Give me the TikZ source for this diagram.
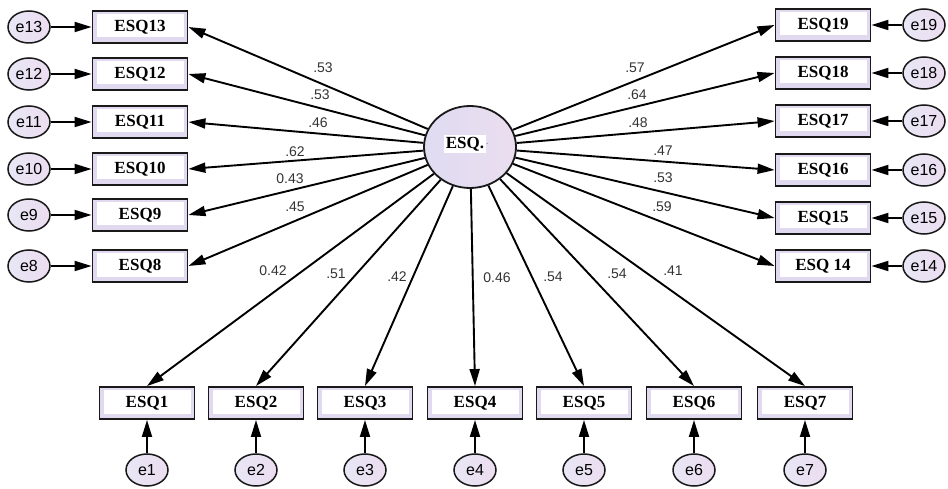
\documentclass[tikz,border=0pt]{standalone}
\usepackage{fontspec}
\setmainfont{Liberation Serif}
\newfontfamily\lblfont{Liberation Sans}
\usetikzlibrary{arrows.meta,shapes.geometric}
\definecolor{lavr}{HTML}{EBDDF0}
\definecolor{lavl}{HTML}{DFDCF1}
\definecolor{boxlav}{HTML}{E1D9EF}
\definecolor{lblgray}{HTML}{333333}
\tikzset{
  obs/.style={draw=black!90, line width=1.9pt, fill=boxlav, minimum width=95pt,
    minimum height=32pt, inner sep=0pt, font=\fontsize{17}{17}\selectfont\bfseries,
    path picture={\fill[white]
      ([shift={(4pt,5.5pt)}]path picture bounding box.south west) rectangle
      ([shift={(-4pt,-3pt)}]path picture bounding box.north east);}},
  err/.style={ellipse, draw=black!90, line width=1.5pt, left color=lavl!70!white,
    right color=lavr, minimum width=42pt, minimum height=32pt, inner sep=0pt,
    font=\lblfont\fontsize{16}{16}\selectfont},
  lat/.style={ellipse, draw=black!90, line width=1.8pt, left color=lavl,
    right color=lavr, minimum width=92pt, minimum height=82pt, inner sep=0pt},
  loadarrow/.style={line width=1.9pt, -{Triangle[length=17pt,width=10pt]}},
  lbl/.style={font=\lblfont\fontsize{14}{14}\selectfont, text=lblgray, inner sep=1pt}
}
\begin{document}
\begin{tikzpicture}[x=1pt,y=-1pt]
\useasboundingbox (0,0) rectangle (948,489);

% latent factor
\node[lat] (c) at (470,147) {};
\node[fill=white, inner sep=1.5pt, font=\fontsize{17}{17}\selectfont\bfseries] (ct) at (465,144) {ESQ.};
\node[font=\fontsize{9}{9}\selectfont, text=black!60, inner sep=0pt, anchor=west] (cd) at (ct.east) {.};

% left indicators
\foreach \n/\y in {13/27,12/74,11/122,10/169,9/215,8/266}{
  \node[obs] (b\n) at (140,\y) {ESQ\n};
  \node[err] (e\n) at (29,\y) {e\n};
  \draw[loadarrow] (e\n) -- (b\n);
  \draw[loadarrow] (c) -- (b\n.east);
}

% right indicators
\foreach \n/\t/\y in {19/ESQ19/25,18/ESQ18/73,17/ESQ17/121,16/ESQ16/170,15/ESQ15/218,14/ESQ 14/266}{
  \node[obs] (b\n) at (823,\y) {\t};
  \node[err] (e\n) at (924,\y) {e\n};
  \draw[loadarrow] (e\n) -- (b\n);
  \draw[loadarrow] (c) -- (b\n.west);
}

% bottom indicators
\foreach \n/\x in {1/147,2/256,3/365,4/475,5/584,6/694,7/805}{
  \node[obs] (b\n) at (\x,403) {ESQ\n};
  \node[err] (e\n) at (\x,470) {e\n};
  \draw[loadarrow] (e\n) -- (b\n);
  \draw[loadarrow] (c) -- (b\n.north);
}

% loadings
\node[lbl] (l13) at (323,68) {.53};
\node[lbl] (l12) at (320,95) {.53};
\node[lbl] (l11) at (318,123) {.46};
\node[lbl] (l10) at (295,152) {.62};
\node[lbl] (l9) at (290,179) {0.43};
\node[lbl] (l8) at (295,207) {.45};
\node[lbl] (l19) at (635,68) {.57};
\node[lbl] (l18) at (637,95) {.64};
\node[lbl] (l17) at (638,123) {.48};
\node[lbl] (l16) at (663,151) {.47};
\node[lbl] (l15) at (663,178) {.53};
\node[lbl] (l14) at (662,207) {.59};
\node[lbl] (l1) at (273,271) {0.42};
\node[lbl] (l2) at (336,274) {.51};
\node[lbl] (l3) at (397,277) {.42};
\node[lbl] (l4) at (497,278) {0.46};
\node[lbl] (l5) at (553,277) {.54};
\node[lbl] (l6) at (617,274) {.54};
\node[lbl] (l7) at (673,271) {.41};
\end{tikzpicture}
\end{document}
